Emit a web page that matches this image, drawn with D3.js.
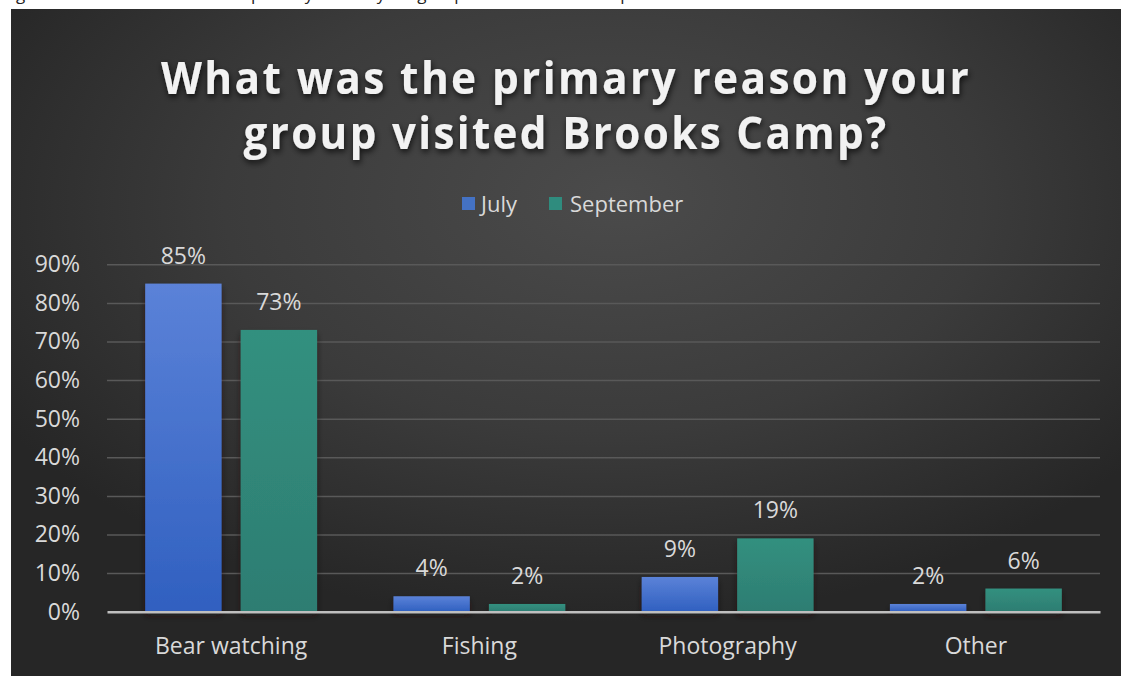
<!DOCTYPE html>
<html>
<head>
<meta charset="utf-8">
<script src="https://cdn.jsdelivr.net/npm/d3@7"></script>
<style>
  html, body { margin: 0; padding: 0; background: #ffffff; overflow: hidden; }
  svg { display: block; }
</style>
</head>
<body>
<svg id="chart" width="1121" height="676"></svg>
<script>
// ---- data ----
const categories = ["Bear watching", "Fishing", "Photography", "Other"];
const seriesNames = ["July", "September"];
const julyValues = [0.85, 0.04, 0.09, 0.02];
const septemberValues = [0.73, 0.02, 0.19, 0.06];
const yTickValues = [0, 0.1, 0.2, 0.3, 0.4, 0.5, 0.6, 0.7, 0.8, 0.9];
const titleLines = ["What was the primary reason your", "group visited Brooks Camp?"];
const captionText = "Figure 5. Visitor answers to the primary reason your group visited Brooks Camp";

const seriesValues = { July: julyValues, September: septemberValues };

// ---- layout ----
const W = 1121, H = 676;
const panel = { x: 11, y: 9, w: W - 11, h: H - 9 };
const plot = { left: 107, right: 1100, top: 264.3, bottom: 611.7 };
const centerX = panel.x + panel.w / 2;
const FONT = "'Open Sans', 'Noto Sans', sans-serif";

const svg = d3.select("#chart");
const defs = svg.append("defs");

// background gradient of the chart panel
const bg = defs.append("radialGradient").attr("id", "bgGrad")
  .attr("cx", "52%").attr("cy", "30%").attr("r", "62%").attr("fx", "55%").attr("fy", "28%");
bg.append("stop").attr("offset", "0%").attr("stop-color", "#4b4b4b");
bg.append("stop").attr("offset", "55%").attr("stop-color", "#3b3b3b");
bg.append("stop").attr("offset", "100%").attr("stop-color", "#262626");

// bar fills
const barGrad = {
  July: ["#5b82d8", "#3060c0"],
  September: ["#33907f", "#2d7d72"]
};
seriesNames.forEach(s => {
  const g = defs.append("linearGradient").attr("id", "grad-" + s)
    .attr("x1", 0).attr("y1", 0).attr("x2", 0).attr("y2", 1);
  g.append("stop").attr("offset", "0%").attr("stop-color", barGrad[s][0]);
  g.append("stop").attr("offset", "100%").attr("stop-color", barGrad[s][1]);
});
const legendColor = { July: "#4472c4", September: "#2f8c7e" };

// shadows
const barShadow = defs.append("filter").attr("id", "barShadow")
  .attr("x", "-20%").attr("y", "-20%").attr("width", "140%").attr("height", "160%");
barShadow.append("feDropShadow").attr("dx", 0).attr("dy", 4).attr("stdDeviation", 3)
  .attr("flood-color", "#1a0e10").attr("flood-opacity", 0.55);

const titleShadow = defs.append("filter").attr("id", "titleShadow")
  .attr("x", "-10%").attr("y", "-30%").attr("width", "120%").attr("height", "160%");
titleShadow.append("feDropShadow").attr("dx", 1).attr("dy", 3).attr("stdDeviation", 3)
  .attr("flood-color", "#000").attr("flood-opacity", 0.75);

// caption above the panel (only its lower part shows)
svg.append("text")
  .attr("x", 3).attr("y", 0)
  .attr("font-family", FONT).attr("font-size", 17).attr("fill", "#222")
  .text(captionText);

// panel
svg.append("rect")
  .attr("x", panel.x).attr("y", panel.y).attr("width", panel.w).attr("height", panel.h)
  .attr("fill", "url(#bgGrad)");

// ---- title ----
const titleTargets = [810, 645];
const titleBaselines = [94, 149];
titleLines.forEach((line, i) => {
  const t = svg.append("text")
    .attr("x", centerX).attr("y", titleBaselines[i])
    .attr("text-anchor", "middle")
    .attr("font-family", FONT).attr("font-weight", 700).attr("font-size", 45)
    .attr("letter-spacing", 2.5)
    .attr("fill", "#f2f2f2")
    .attr("filter", "url(#titleShadow)")
    .text(line);
  const len = t.node().getComputedTextLength();
  if (Math.abs(len - titleTargets[i]) > 4) {
    t.attr("textLength", titleTargets[i]).attr("lengthAdjust", "spacingAndGlyphs");
  }
});

// ---- scales ----
const y = d3.scaleLinear().domain([0, 0.9]).range([plot.bottom, plot.top]);
const x0 = d3.scaleBand().domain(categories).range([plot.left, plot.right]).padding(0);
const x1 = d3.scaleBand().domain(seriesNames).range([0, x0.bandwidth()])
  .paddingInner(0.2).paddingOuter(0.4);

// gridlines
const grid = svg.append("g").attr("transform", `translate(${plot.left},0)`)
  .call(d3.axisLeft(y).tickValues(yTickValues.filter(v => v > 0))
    .tickSize(-(plot.right - plot.left)).tickFormat(""));
grid.select(".domain").remove();
grid.selectAll(".tick line").attr("stroke", "#595959").attr("stroke-width", 1.5);

// y axis labels
const yAxis = svg.append("g").attr("transform", `translate(${plot.left},0)`)
  .call(d3.axisLeft(y).tickValues(yTickValues).tickFormat(d3.format(".0%"))
    .tickSize(0).tickPadding(27));
yAxis.select(".domain").remove();
yAxis.selectAll("text")
  .attr("font-family", FONT).attr("font-size", 23).attr("fill", "#d9d9d9");

// ---- bars ----
const groups = svg.append("g").selectAll("g")
  .data(categories).join("g")
  .attr("transform", d => `translate(${x0(d)},0)`);

groups.selectAll("rect")
  .data((c, ci) => seriesNames.map(s => ({ s, v: seriesValues[s][ci] })))
  .join("rect")
  .attr("x", d => x1(d.s))
  .attr("width", x1.bandwidth())
  .attr("y", d => y(d.v))
  .attr("height", d => y(0) - y(d.v))
  .attr("fill", d => `url(#grad-${d.s})`)
  .attr("filter", "url(#barShadow)");

// data labels
groups.selectAll("text.val")
  .data((c, ci) => seriesNames.map(s => ({ s, v: seriesValues[s][ci] })))
  .join("text").attr("class", "val")
  .attr("x", d => x1(d.s) + x1.bandwidth() / 2)
  .attr("y", d => y(d.v) - 20)
  .attr("text-anchor", "middle")
  .attr("font-family", FONT).attr("font-size", 23).attr("fill", "#d9d9d9")
  .text(d => d3.format(".0%")(d.v));

// x axis
const xAxis = svg.append("g").attr("transform", `translate(0,${plot.bottom})`)
  .call(d3.axisBottom(x0).tickSize(0).tickPadding(26));
xAxis.select(".domain").attr("stroke", "#bfbfbf").attr("stroke-width", 2.5);
xAxis.selectAll("text")
  .attr("font-family", FONT).attr("font-size", 23).attr("fill", "#d9d9d9");

// ---- legend ----
const legendItems = [
  { s: "July", sx: 462, tx: 481 },
  { s: "September", sx: 549, tx: 570 }
];
const legend = svg.append("g");
legendItems.forEach(it => {
  legend.append("rect")
    .attr("x", it.sx).attr("y", 197).attr("width", 13).attr("height", 13)
    .attr("fill", legendColor[it.s]);
  legend.append("text")
    .attr("x", it.tx).attr("y", 212)
    .attr("font-family", FONT).attr("font-size", 22).attr("fill", "#d9d9d9")
    .text(it.s);
});
</script>
</body>
</html>
